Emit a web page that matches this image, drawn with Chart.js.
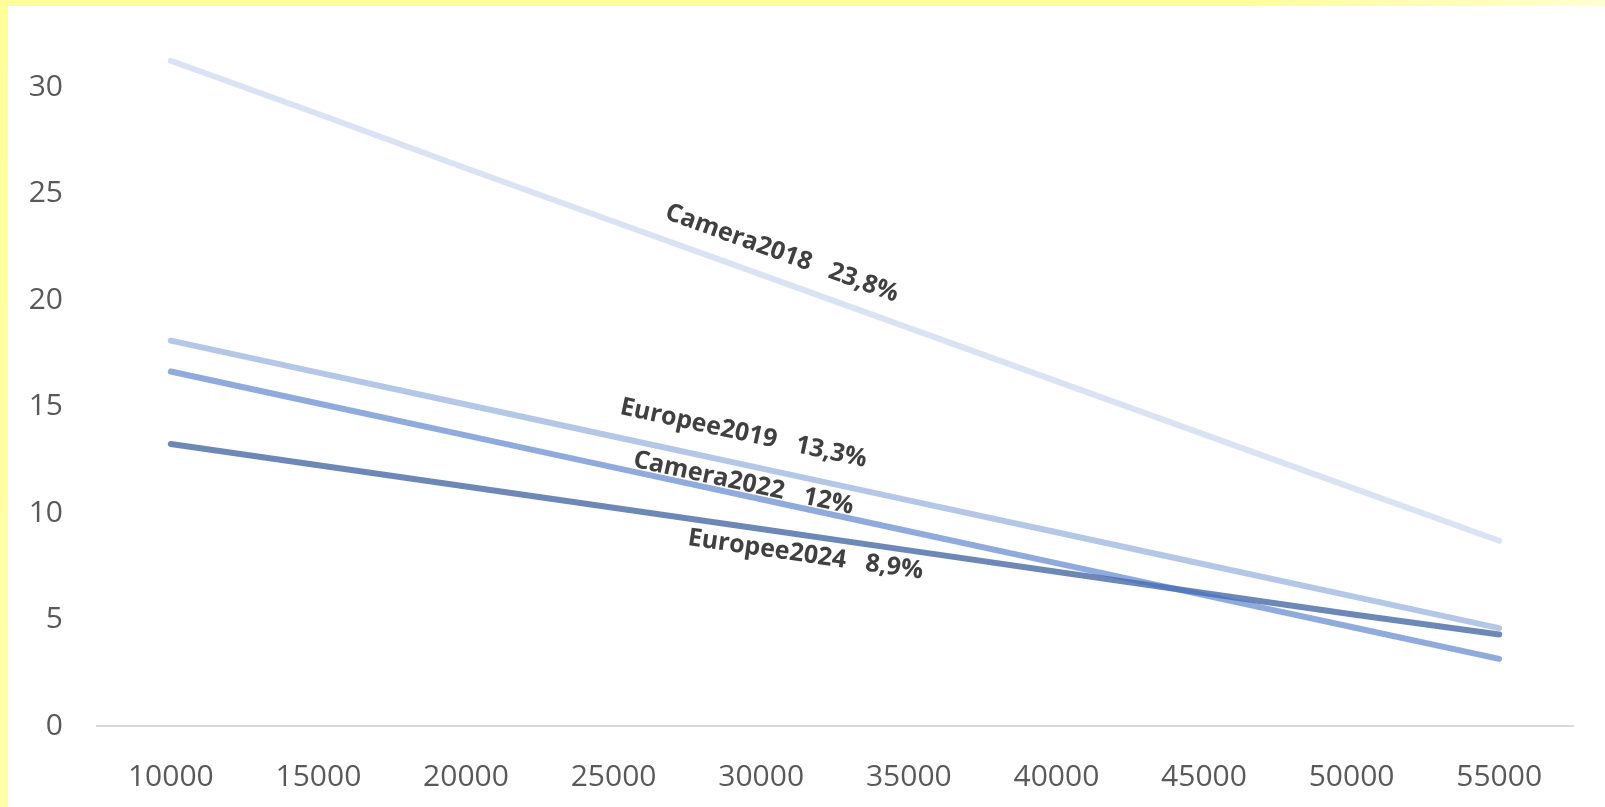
<!DOCTYPE html>
<html>
<head>
<meta charset="utf-8">
<script src="https://cdn.jsdelivr.net/npm/chart.js@4"></script>
<style>
  html, body { margin: 0; padding: 0; background: #fff; }
  #wrap { position: relative; width: 1605px; height: 807px; overflow: hidden; }
  #topband { position: absolute; left: 0; top: 0; width: 1605px; height: 6px;
    background: linear-gradient(to right, #ffff99 0%, #ffff99 78%, #ffffd6 100%); }
  #leftband { position: absolute; left: 0; top: 0; width: 8px; height: 807px;
    background: linear-gradient(to bottom, #ffff99 0%, #ffffa8 100%); }
</style>
</head>
<body>
<div id="wrap">
  <canvas id="myChart" width="1605" height="807"></canvas>
  <div id="topband"></div>
  <div id="leftband"></div>
</div>
<script>
    const categories = ["10000", "15000", "20000", "25000", "30000", "35000", "40000", "45000", "50000", "55000"];
    const camera2018 = [31.25, 28.75, 26.2, 23.7, 21.2, 18.7, 16.2, 13.7, 11.2, 8.7];
    const europee2019 = [18.1, 16.6, 15.1, 13.6, 12.1, 10.6, 9.1, 7.6, 6.1, 4.6];
    const camera2022 = [16.65, 15.15, 13.65, 12.15, 10.65, 9.15, 7.65, 6.15, 4.65, 3.15];
    const europee2024 = [13.25, 12.25, 11.25, 10.25, 9.25, 8.25, 7.25, 6.25, 5.25, 4.3];
    const yTicks = [0, 5, 10, 15, 20, 25, 30];

    // testo delle etichette sulle linee, posizione in coordinate dati
    const lineLabels = [
      { text: "Camera2018   23,8%", dataset: 0, x: 4.14, y: 22.2 },
      { text: "Europee2019   13,3%", dataset: 1, x: 3.88, y: 13.74 },
      { text: "Camera2022   12%", dataset: 2, x: 3.88, y: 11.4 },
      { text: "Europee2024   8,9%", dataset: 3, x: 4.3, y: 8.04 },
    ];

    const lineLabelPlugin = {
      id: "lineLabels",
      afterDatasetsDraw(chart) {
        const ctx = chart.ctx;
        const xs = chart.scales.x;
        const ys = chart.scales.y;
        ctx.save();
        ctx.font = "bold 25px 'Open Sans'";
        ctx.fillStyle = "#404040";
        ctx.textAlign = "center";
        ctx.textBaseline = "middle";
        lineLabels.forEach(function (l) {
          const d = chart.data.datasets[l.dataset].data;
          const n = d.length - 1;
          const x0 = xs.getPixelForValue(0), x1 = xs.getPixelForValue(n);
          const y0 = ys.getPixelForValue(d[0]), y1 = ys.getPixelForValue(d[n]);
          const ang = Math.atan2(y1 - y0, x1 - x0);
          ctx.save();
          ctx.translate(xs.getPixelForValue(l.x), ys.getPixelForValue(l.y));
          ctx.rotate(ang);
          ctx.fillText(l.text, 0, 0);
          ctx.restore();
        });
        ctx.restore();
      }
    };

    function serie(label, values, color) {
      return {
        label: label,
        data: values,
        borderColor: color,
        backgroundColor: color,
        borderWidth: 6,
        borderCapStyle: "round",
        pointRadius: 0,
        pointHoverRadius: 0,
        tension: 0,
        fill: false,
        clip: false,
      };
    }

    const data = {
      labels: categories,
      datasets: [
        serie("Camera2018", camera2018, "rgba(68, 114, 196, 0.2)"),
        serie("Europee2019", europee2019, "rgba(68, 114, 196, 0.4)"),
        serie("Camera2022", camera2022, "rgba(68, 114, 196, 0.6)"),
        serie("Europee2024", europee2024, "rgba(47, 85, 151, 0.7)"),
      ],
    };

    const config = {
      type: "line",
      data: data,
      plugins: [lineLabelPlugin],
      options: {
        responsive: false,
        animation: false,
        layout: { padding: { top: 0, right: 32, left: 0, bottom: 0 } },
        plugins: {
          legend: { display: false },
          tooltip: { enabled: false },
        },
        scales: {
          x: {
            offset: true,
            grid: { display: false, drawTicks: false },
            border: { display: true, color: "#d9d9d9", width: 2 },
            ticks: {
              color: "#595959",
              font: { family: "'Open Sans'", size: 30 },
              padding: 33,
              maxRotation: 0,
              autoSkip: false,
            },
            afterFit(scale) { scale.height = 81; },
          },
          y: {
            min: 0,
            max: 31.66,
            grid: { display: false, drawTicks: false },
            border: { display: false },
            ticks: {
              stepSize: 5,
              includeBounds: false,
              color: "#595959",
              font: { family: "'Open Sans'", size: 30 },
              padding: 34,
              callback: function (v) { return yTicks.includes(v) ? v : ""; },
            },
            afterFit(scale) { scale.width = 97; },
          },
        },
      },
    };

    const myChart = new Chart(document.getElementById("myChart"), config);
</script>
</body>
</html>
